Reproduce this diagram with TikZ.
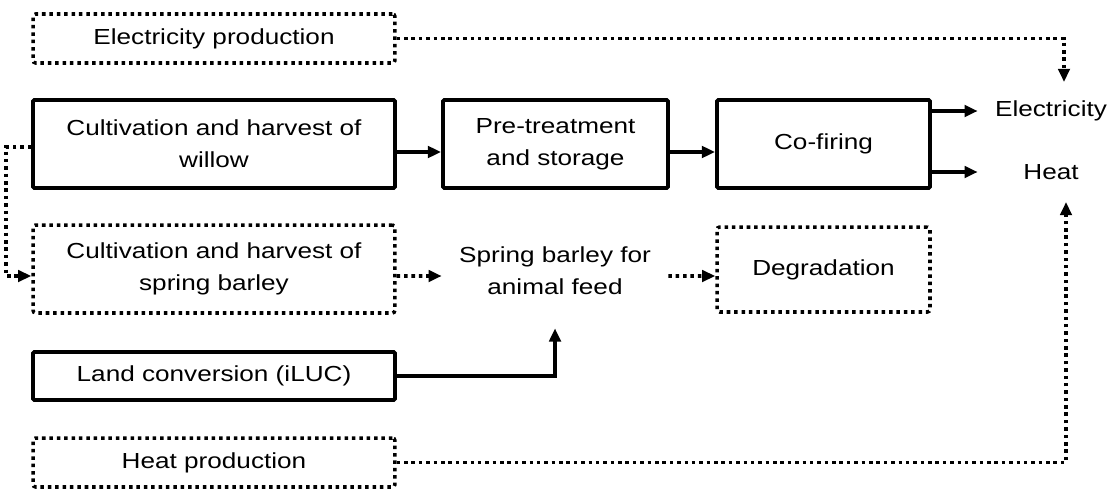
\documentclass[tikz,border=0pt]{standalone}
\usepackage{fontspec}
\setmainfont{Liberation Sans}[FakeStretch=1.2]
\usetikzlibrary{arrows.meta}

\begin{document}
\begin{tikzpicture}[x=0.02cm,y=-0.02cm,
  every node/.style={font=\fontsize{12.4}{18}\selectfont,align=center,inner sep=0pt},
  solidbox/.style={draw,line width=2.2pt,rounded corners=0.8pt},
  dotbox/.style={draw,line width=2pt,dash pattern=on 2pt off 2.2pt,rounded corners=1.5pt},
  flow/.style={line width=2.2pt,-{Triangle[length=7.5pt,width=6.5pt]}},
  dotflow/.style={line width=2pt,dash pattern=on 2pt off 2.2pt,-{Triangle[length=7.5pt,width=6.5pt]}}]
\useasboundingbox (0,0) rectangle (1118,490); % adjust bounding box
\node[dotbox,minimum width=7.24cm,minimum height=0.98cm] (elprod) at (214,38.5) {Electricity production};
\node[solidbox,minimum width=7.24cm,minimum height=1.76cm] (willow) at (214,144) {Cultivation and harvest of\\willow};
\node[solidbox,minimum width=4.5cm,minimum height=1.76cm] (pretreat) at (555.5,144) {Pre-treatment\\and storage};
\node[solidbox,minimum width=4.26cm,minimum height=1.76cm] (cofiring) at (823.5,144) {Co-firing};
\node[minimum width=2.92cm] (elec) at (1051,111) {Electricity};
\node[minimum width=2.92cm] (heat) at (1051,172) {Heat};
\node[dotbox,minimum width=7.24cm,minimum height=1.76cm] (barley) at (214,269) {Cultivation and harvest of\\spring barley};
\node[minimum width=4.52cm,minimum height=2.28cm] (feed) at (555,271) {Spring barley for\\animal feed};
\node[dotbox,minimum width=4.26cm,minimum height=1.7cm] (degrad) at (823.5,269.5) {Degradation};
\node[solidbox,minimum width=7.24cm,minimum height=0.96cm] (iluc) at (214,376) {Land conversion (iLUC)};
\node[dotbox,minimum width=7.24cm,minimum height=0.98cm] (heatprod) at (214,462.5) {Heat production};
\coordinate (elin) at (1064,82);
\coordinate (heatin) at (1066,202);

\draw[flow] ([yshift=-0.16cm]willow.east) -- ([yshift=-0.16cm]pretreat.west);
\draw[flow] ([yshift=-0.16cm]pretreat.east) -- ([yshift=-0.16cm]cofiring.west);
\draw[flow] (cofiring.east |- elec) -- (elec.west);
\draw[flow] (cofiring.east |- heat) -- (heat.west);
\draw[flow] (iluc.east) -| (feed.south);
\draw[dotflow] (elprod.east) -| (elin);
\draw[dotflow] (heatprod.east) -| (heatin);
\draw[dotflow]
     ([yshift=-0.06cm]willow.west)
  -- ++(-25,0)
  |- ([yshift=-0.14cm]barley.west);
\draw[dotflow] ([yshift=-0.14cm]barley.east) -- (feed.west |- 0,276);
\draw[dotflow] (feed.east |- 0,276) -- ([yshift=-0.13cm]degrad.west);
\end{tikzpicture}
\end{document}
